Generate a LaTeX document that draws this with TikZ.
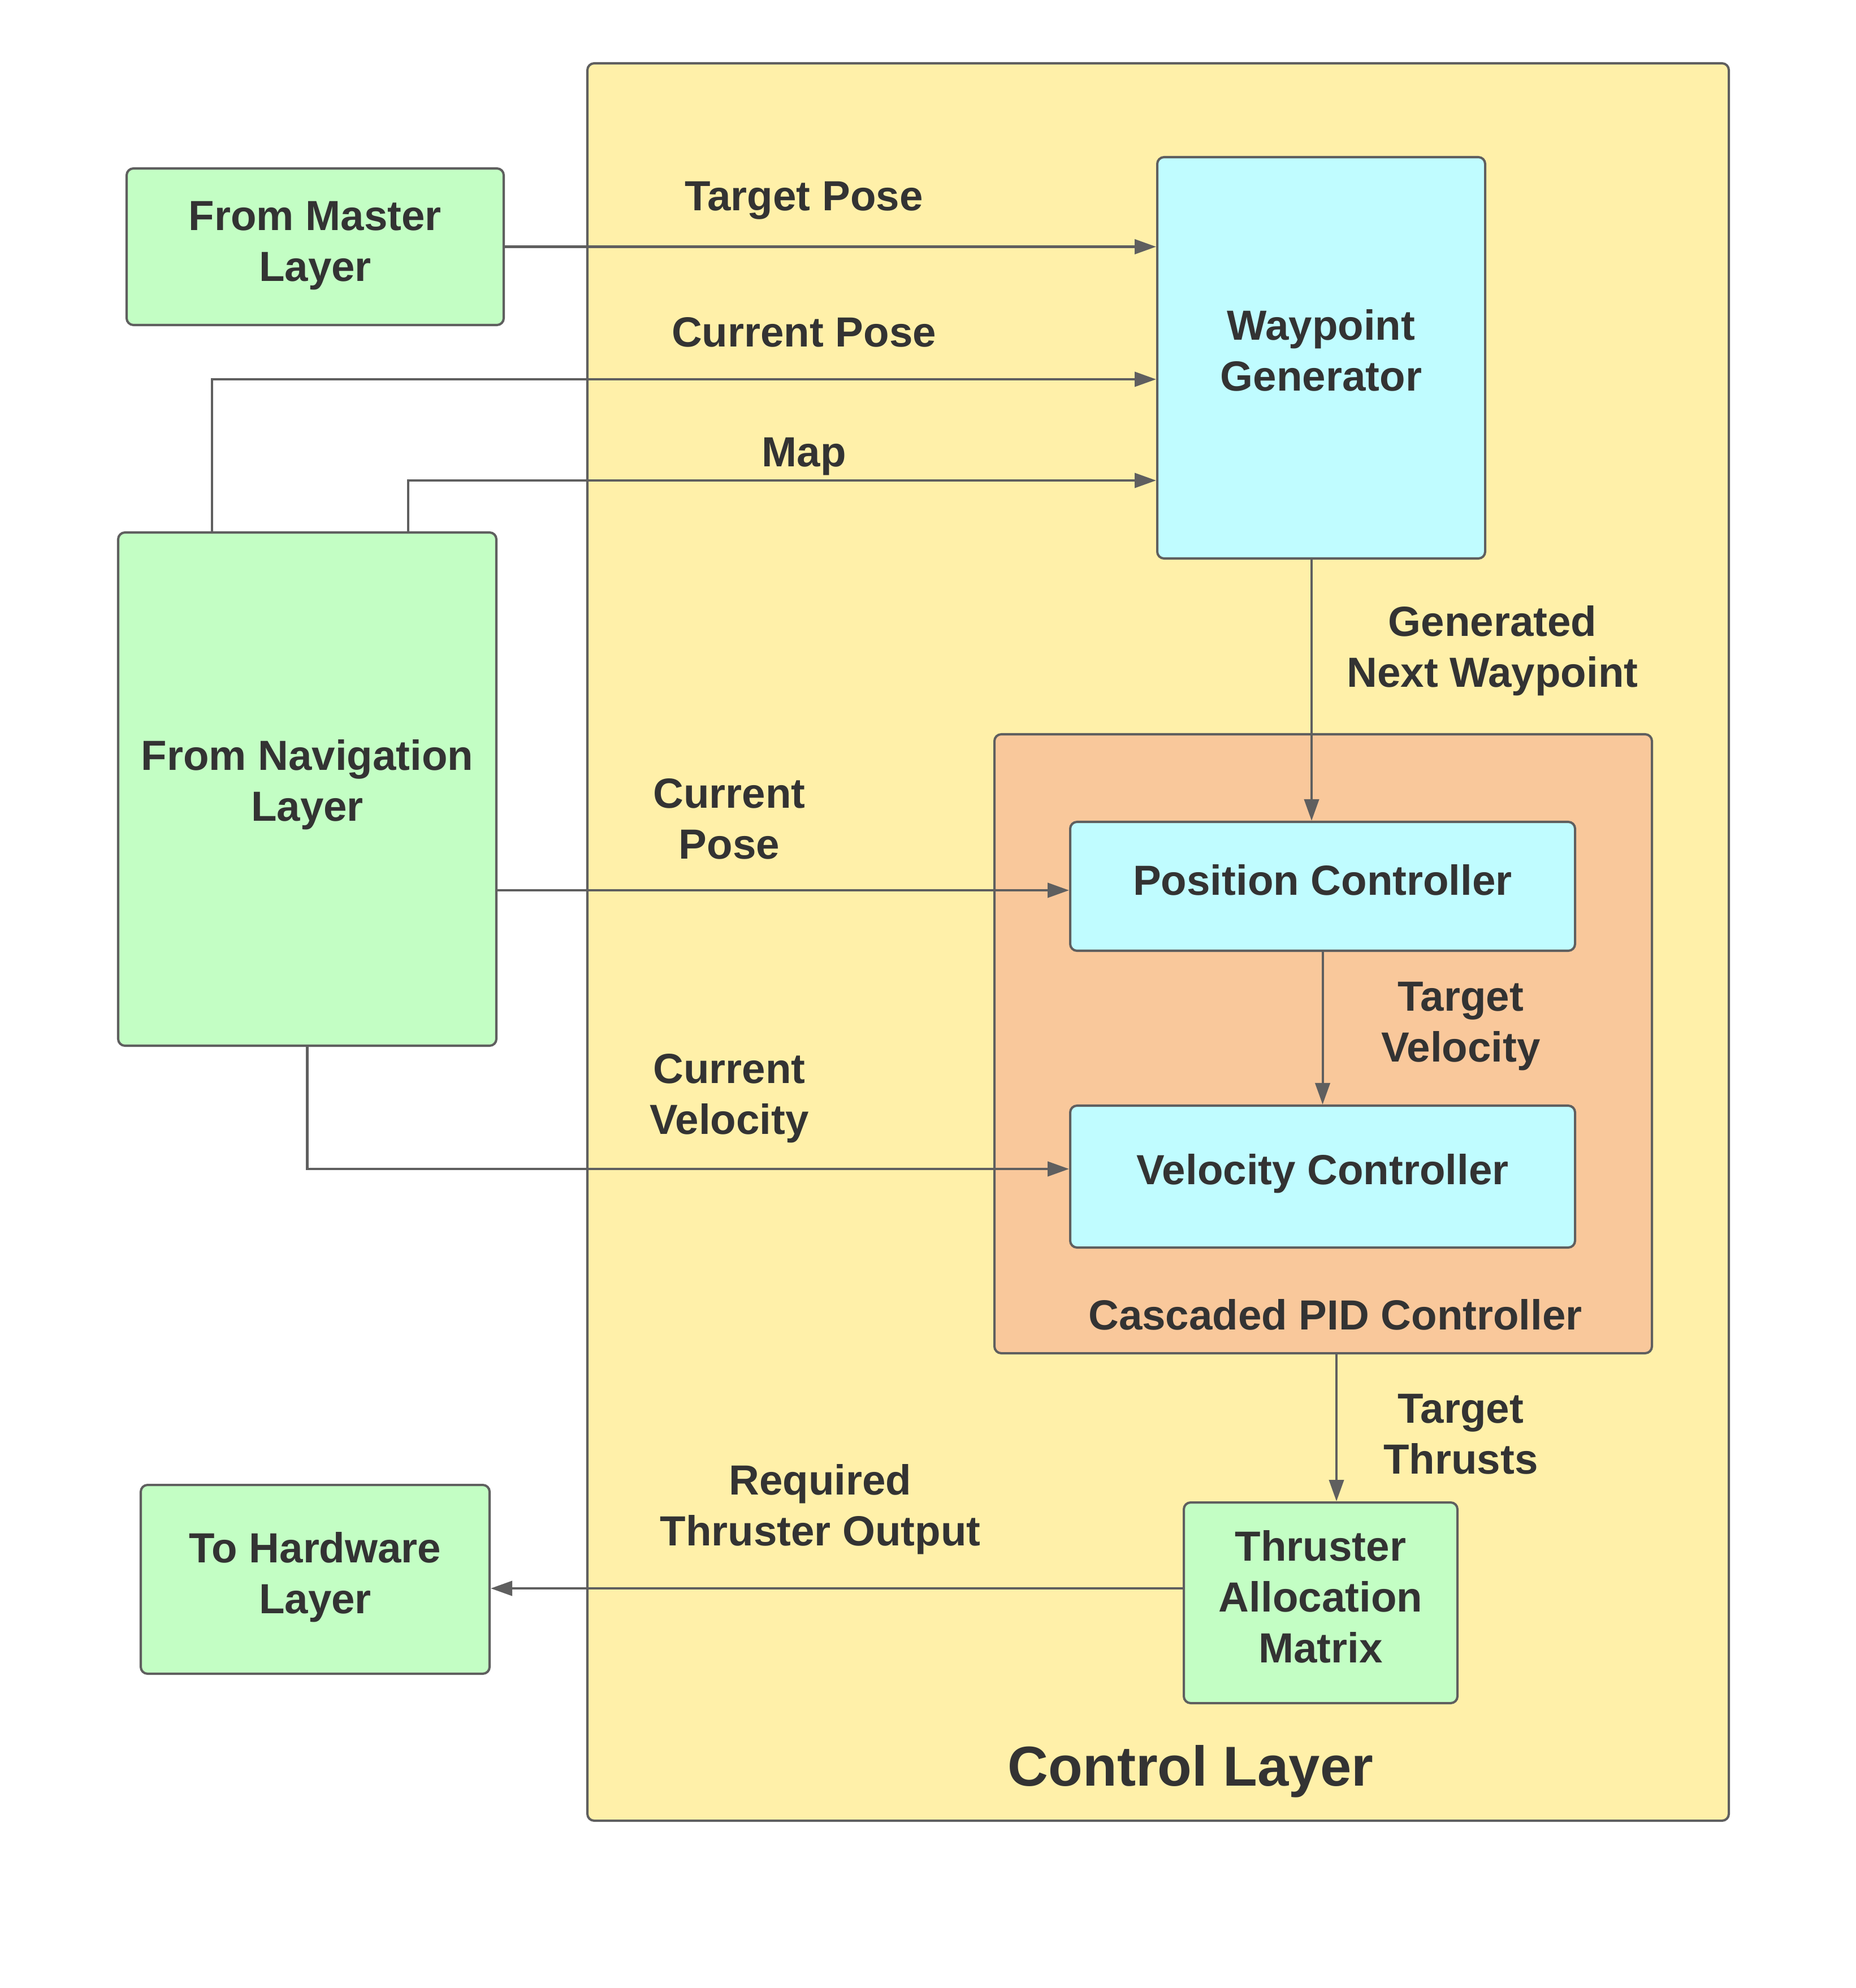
\documentclass[tikz,border=0pt]{standalone}
\usepackage{fontspec}
\setmainfont{Liberation Sans}
\usetikzlibrary{arrows.meta}
\definecolor{ylw}{HTML}{FFF0A9}
\definecolor{grn}{HTML}{C3FEC4}
\definecolor{cyn}{HTML}{C0FCFF}
\definecolor{org}{HTML}{F9C89B}
\definecolor{lin}{HTML}{5F5F5F}
\definecolor{txt}{HTML}{333333}
\tikzset{
  box/.style={draw=lin, line width=1.15pt, rounded corners=0.12cm, rectangle, inner sep=0pt},
  lbl/.style={align=center, text=txt, font=\fontsize{21.2}{25.6}\selectfont\bfseries, inner sep=0pt},
  arr/.style={draw=lin, line width=1.15pt, -{Triangle[length=0.38cm, width=0.26cm]}},
}
\begin{document}
\begin{tikzpicture}
\useasboundingbox (0,0) rectangle (32.82,-35.17);
\fill[white] (0,0) rectangle (32.82,-35.17);
% containers
\node[box, fill=ylw, minimum width=20.19cm, minimum height=31.09cm] (ctrl) at (20.485,-16.665) {};
\node[box, fill=org, minimum width=11.63cm, minimum height=10.95cm] (pid) at (23.405,-18.465) {};
% blocks
\node[box, fill=grn, minimum width=6.67cm, minimum height=2.77cm] (master) at (5.575,-4.365) {};
\node[box, fill=grn, minimum width=6.69cm, minimum height=9.08cm] (nav) at (5.435,-13.96) {};
\node[box, fill=grn, minimum width=6.17cm, minimum height=3.34cm] (hw) at (5.575,-27.94) {};
\node[box, fill=cyn, minimum width=5.80cm, minimum height=7.10cm] (wp) at (23.37,-6.33) {};
\node[box, fill=cyn, minimum width=8.93cm, minimum height=2.28cm] (pos) at (23.395,-15.68) {};
\node[box, fill=cyn, minimum width=8.93cm, minimum height=2.51cm] (vel) at (23.395,-20.815) {};
\node[box, fill=grn, minimum width=4.84cm, minimum height=3.55cm] (thr) at (23.36,-28.355) {};
% block texts
\node[lbl] (mastert) at ([yshift=0.02cm]master.center) {From Master\\Layer};
\node[lbl] (navt) at ([yshift=0.08cm]nav.center) {From Navigation\\Layer};
\node[lbl] (hwt) at ([yshift=0.04cm]hw.center) {To Hardware\\Layer};
\node[lbl] (wpt) at ([yshift=0.13cm]wp.center) {Waypoint\\Generator};
\node[lbl] (post) at ([yshift=0.11cm]pos.center) {Position Controller};
\node[lbl] (velt) at ([yshift=0.05cm]vel.center) {Velocity Controller};
\node[lbl] (thrt) at ([yshift=0.11cm]thr.center) {Thruster\\Allocation\\Matrix};
% connectors
\draw[arr] (master.east) -- (master.east -| wp.west);
\draw[arr] (3.75,0 |- nav.north) -- (3.75,-6.71) -- (wp.west |- 0,-6.71);
\draw[arr] (7.22,0 |- nav.north) -- (7.22,-8.50) -- (wp.west |- 0,-8.50);
\draw[arr] (nav.east |- 0,-15.75) -- (pos.west |- 0,-15.75);
\draw[arr] (nav.south) -- (nav.south |- 0,-20.68) -- (vel.west |- 0,-20.68);
\draw[arr] (23.20,0 |- wp.south) -- (23.20,0 |- pos.north);
\draw[arr] (pos.south) -- (vel.north);
\draw[arr] (23.64,0 |- pid.south) -- (23.64,0 |- thr.north);
\draw[arr] (thr.west |- 0,-28.10) -- (hw.east |- 0,-28.10);
% labels
\node[lbl] (l1) at (14.22,-3.55) {Target Pose};
\node[lbl] (l2) at (14.22,-5.88) {Current Pose};
\node[lbl] (l3) at (14.22,-8.08) {Map};
\node[lbl] (l4) at (26.40,-11.51) {Generated\\Next Waypoint};
\node[lbl] (l5) at (12.90,-14.49) {Current\\Pose};
\node[lbl] (l6) at (12.90,-19.43) {Current\\Velocity};
\node[lbl] (l7) at (25.84,-18.16) {Target\\Velocity};
\node[lbl] (l8) at (23.62,-23.26) {Cascaded PID Controller};
\node[lbl] (l9) at (25.84,-25.37) {Target\\Thrusts};
\node[lbl] (l10) at (14.51,-26.70) {Required\\Thruster Output};
\node[lbl, font=\fontsize{28.3}{33}\selectfont\bfseries] (l11) at (21.06,-31.34) {Control Layer};
\end{tikzpicture}
\end{document}
